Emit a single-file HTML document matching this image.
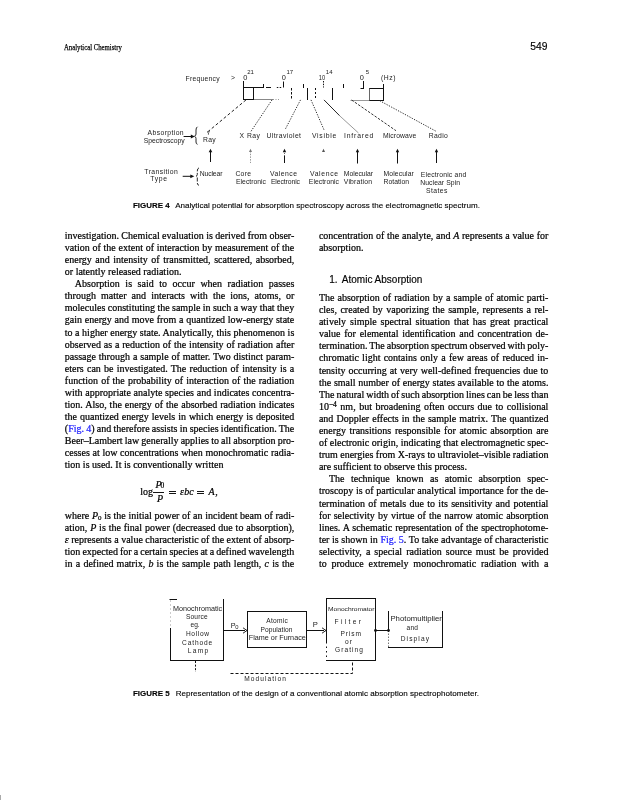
<!DOCTYPE html>
<html><head><meta charset="utf-8">
<style>
html,body{margin:0;padding:0;background:#fff;}
body{width:617px;height:800px;position:relative;overflow:hidden;}
.ln{position:absolute;white-space:nowrap;font-family:"Liberation Serif",serif;font-size:10px;line-height:12px;color:#000;-webkit-text-stroke:0.22px #000;}
.ln a{-webkit-text-stroke:0.22px #2020ff;}
.ln a{color:#2020ff;text-decoration:none;}
sub,sup{font-size:7px;line-height:0;}
sub{vertical-align:-1.2px;}
sup{vertical-align:3.5px;font-size:7.5px;}
.abs{position:absolute;white-space:nowrap;}
.eq{font-family:"Liberation Serif",serif;font-size:10px;line-height:12px;color:#000;-webkit-text-stroke:0.22px #000;}
.cap{position:absolute;white-space:nowrap;font-family:"Liberation Sans",sans-serif;font-size:8.07px;line-height:10px;color:#000;-webkit-text-stroke:0.12px #000;}
.cap b{font-weight:bold;margin-right:3.8px;font-size:7.95px;}
svg{position:absolute;left:0;top:0;}
#wrap{position:absolute;left:0;top:0;width:617px;height:800px;will-change:transform;}
</style></head><body><div id="wrap">
<div class="abs" style="left:64.4px;top:41.8px;font-family:'Liberation Serif',serif;font-size:8.8px;line-height:10px;color:#000;-webkit-text-stroke:0.25px #000;transform:scaleX(0.765);transform-origin:0 0;">Analytical Chemistry</div>
<div class="abs" style="left:530.3px;top:41.5px;font-family:'Liberation Sans',sans-serif;font-size:10.3px;line-height:10px;color:#000;-webkit-text-stroke:0.15px #000;">549</div>
<svg width="617" height="220" viewBox="0 0 617 220" style="left:0;top:0">
<g font-family="Liberation Sans, sans-serif" fill="#222" font-size="6.8">
<text x="185.6" y="80.5" textLength="34" lengthAdjust="spacing">Frequency</text>
<text x="231" y="80" textLength="4.5" lengthAdjust="spacing">&gt;</text>
<text x="243.2" y="79.8" font-size="7.4">0</text>
<text x="247.2" y="73.9" font-size="6">21</text>
<text x="281.8" y="79.8" font-size="7.4">0</text>
<text x="286.4" y="73.9" font-size="6">17</text>
<text x="318.8" y="79.8" font-size="7.2" textLength="6.4" lengthAdjust="spacingAndGlyphs">10</text>
<text x="325.8" y="73.9" font-size="6">14</text>
<text x="359.8" y="79.8" font-size="7.4">0</text>
<text x="365.8" y="73.9" font-size="6">5</text>
<text x="381" y="80" textLength="14.6" lengthAdjust="spacing">(Hz)</text>

<text x="147.6" y="134.8" textLength="36" lengthAdjust="spacing">Absorption</text>
<text x="143.8" y="143.3" textLength="40.8" lengthAdjust="spacing">Spectroscopy</text>
<text x="207" y="133.6" font-size="5.5">γ</text>
<text x="203" y="141.8" textLength="12.7" lengthAdjust="spacing">Ray</text>
<text x="239.6" y="138" textLength="20.3" lengthAdjust="spacing">X Ray</text>
<text x="266.5" y="137.5" textLength="34.5" lengthAdjust="spacing">Ultraviolet</text>
<text x="311.9" y="137.5" textLength="24.3" lengthAdjust="spacing">Visible</text>
<text x="344" y="137.7" textLength="29.3" lengthAdjust="spacing">Infrared</text>
<text x="383" y="137.9" textLength="33.2" lengthAdjust="spacing">Microwave</text>
<text x="428.8" y="137.9" textLength="19" lengthAdjust="spacing">Radio</text>

<text x="144.3" y="174.4" textLength="33.5" lengthAdjust="spacing">Transition</text>
<text x="150.2" y="181.1" textLength="16.8" lengthAdjust="spacing">Type</text>
<text x="199.7" y="175.8" textLength="22.7" lengthAdjust="spacing">Nuclear</text>
<text x="235.4" y="175.6" textLength="15.6" lengthAdjust="spacing">Core</text>
<text x="236" y="183.6" textLength="30" lengthAdjust="spacing">Electronic</text>
<text x="270" y="175.6" textLength="27" lengthAdjust="spacing">Valence</text>
<text x="270.9" y="183.6" textLength="29.1" lengthAdjust="spacing">Electronic</text>
<text x="310" y="175.6" textLength="28" lengthAdjust="spacing">Valence</text>
<text x="308.8" y="183.6" textLength="30.2" lengthAdjust="spacing">Electronic</text>
<text x="343.8" y="176" textLength="29.2" lengthAdjust="spacing">Molecular</text>
<text x="343.8" y="183.8" textLength="28.2" lengthAdjust="spacing">Vibration</text>
<text x="383.6" y="176" textLength="30.2" lengthAdjust="spacing">Molecular</text>
<text x="383.6" y="183.8" textLength="25.4" lengthAdjust="spacing">Rotation</text>
<text x="420.8" y="176.8" textLength="45.4" lengthAdjust="spacing">Electronic and</text>
<text x="420.2" y="184.7" textLength="39.8" lengthAdjust="spacing">Nuclear Spin</text>
<text x="425.9" y="193.3" textLength="21.6" lengthAdjust="spacing">States</text>
</g>
<g stroke="#111" stroke-width="1" fill="none">
<path d="M243.5 81 V100 M243 87.5 H264 M263.5 84 V87.5 M253.5 87.5 V100 M243 99.5 H254"/>
<path d="M266 87.5 H271 M276.8 87.5 H278.3 M279.7 87.5 H281.2" />
<path d="M283.5 81.5 V87.5"/>
<path d="M291.5 88 V100" stroke-dasharray="2.5 1.5"/>
<path d="M303.5 84 V88 M307.5 88 V100"/>
<path d="M315.5 88 V100" stroke-dasharray="2 2"/>
<path d="M323.5 81 V87.5" stroke-dasharray="1.5 1.2"/>
<path d="M332.5 88 V100 M343.5 84 V88"/>
<path d="M363.5 81 V88.5 M360.5 88.5 H364"/>
<path d="M369 88.5 H384 M383.5 84 V101 M369 100.5 H384"/>
<path d="M369.5 88.5 V100.5" stroke="#666"/>
<path d="M254 99.5 H273" stroke="#888"/>
<path d="M273 99.5 H280" stroke="#999" stroke-dasharray="1 1.5"/>
<path d="M350.5 100.5 H369" stroke="#999"/>
<!-- diagonals -->
<path d="M246 99.9 L207.2 132.3" stroke-dasharray="3 2.2" stroke="#222"/>
<path d="M272 99.9 L250.9 131.5" stroke-dasharray="1.3 1.3" stroke="#333"/>
<path d="M300.5 99.9 L285 129.8" stroke-dasharray="1.3 1.3" stroke="#333"/>
<path d="M311 99.9 L324 129.8" stroke-dasharray="1.3 1.3" stroke="#333"/>
<path d="M324 99.9 L339.7 115.8" stroke="#222"/><path d="M339.7 115.8 L358.5 133" stroke="#999"/>
<path d="M351.6 100 L396 130.7" stroke-dasharray="2.5 1.5" stroke="#333"/>
<path d="M379.7 100.7 L436.5 131.5" stroke-dasharray="1.3 1.3" stroke="#333"/>
<!-- arrows absorption -->
<path d="M183.6 136.5 H193"/>
<path d="M197.5 126.8 Q196 127.5 196 130 V134 Q196 135.8 194.5 136.2 Q196 136.8 196 138.6 V142 Q196 144 197.5 144.3" stroke-width="0.9"/>
<path d="M182.7 176.3 H192"/>
<path d="M199 167.8 Q197.3 168.5 197.3 171 V174.5 Q197.3 175.9 196 176.2 Q197.3 176.6 197.3 178 V183 Q197.3 185 199 185.3" stroke-width="0.9" stroke-dasharray="4 1.5"/>
<!-- up arrows -->
<path d="M210.5 151 V162"/>
<path d="M250.5 151 V163" stroke="#999" stroke-dasharray="1.5 1.2"/>
<path d="M284.5 151 V156" stroke="#666" stroke-dasharray="1 1"/>
<path d="M284.5 156 V163"/>
<path d="M357.5 151 V163.5 M397.5 151 V163.5 M436.5 151 V163"/>
</g>
<g fill="#111">
<path d="M194.8 136.5 L190.8 134.6 L190.8 138.4 Z"/>
<path d="M194.3 176.3 L190.3 174.4 L190.3 178.2 Z"/>
<path d="M210.5 148.8 L208.7 152.3 L212.3 152.3 Z"/>
<path d="M250.5 148.8 L249 152 L252 152 Z" fill="#777"/>
<path d="M284.5 148.8 L282.8 152.2 L286.2 152.2 Z"/>
<path d="M323.5 148.8 L322 152 L325 152 Z" fill="#555"/>
<path d="M357.5 148.8 L355.8 152.2 L359.2 152.2 Z"/>
<path d="M397.5 148.8 L395.8 152.2 L399.2 152.2 Z"/>
<path d="M436.5 148.8 L434.8 152.2 L438.2 152.2 Z"/>
</g>
</svg>

<div class="cap" style="left:133px;top:200.6px;"><b>FIGURE 4</b> Analytical potential for absorption spectroscopy across the electromagnetic spectrum.</div>
<div class="ln" style="left:64.80px;top:230.00px;word-spacing:-0.086px">investigation. Chemical evaluation is derived from obser-</div>
<div class="ln" style="left:64.80px;top:242.06px;word-spacing:0.231px">vation of the extent of interaction by measurement of the</div>
<div class="ln" style="left:64.80px;top:254.13px;word-spacing:1.023px">energy and intensity of transmitted, scattered, absorbed,</div>
<div class="ln" style="left:64.80px;top:266.19px;word-spacing:0.000px">or latently released radiation.</div>
<div class="ln" style="left:74.80px;top:278.26px;word-spacing:3.067px">Absorption is said to occur when radiation passes</div>
<div class="ln" style="left:64.80px;top:290.32px;word-spacing:2.582px">through matter and interacts with the ions, atoms, or</div>
<div class="ln" style="left:64.80px;top:302.39px;word-spacing:-0.082px">molecules constituting the sample in such a way that they</div>
<div class="ln" style="left:64.80px;top:314.45px;word-spacing:0.270px">gain energy and move from a quantized low-energy state</div>
<div class="ln" style="left:64.80px;top:326.52px;word-spacing:0.047px">to a higher energy state. Analytically, this phenomenon is</div>
<div class="ln" style="left:64.80px;top:338.58px;word-spacing:0.354px">observed as a reduction of the intensity of radiation after</div>
<div class="ln" style="left:64.80px;top:350.65px;word-spacing:0.436px">passage through a sample of matter. Two distinct param-</div>
<div class="ln" style="left:64.80px;top:362.72px;word-spacing:0.774px">eters can be investigated. The reduction of intensity is a</div>
<div class="ln" style="left:64.80px;top:374.78px;word-spacing:0.570px">function of the probability of interaction of the radiation</div>
<div class="ln" style="left:64.80px;top:386.85px;word-spacing:0.211px">with appropriate analyte species and indicates concentra-</div>
<div class="ln" style="left:64.80px;top:398.91px;word-spacing:0.453px">tion. Also, the energy of the absorbed radiation indicates</div>
<div class="ln" style="left:64.80px;top:410.98px;word-spacing:0.477px">the quantized energy levels in which energy is deposited</div>
<div class="ln" style="left:64.80px;top:423.04px;word-spacing:-0.244px">(<a>Fig. 4</a>) and therefore assists in species identification. The</div>
<div class="ln" style="left:64.80px;top:435.11px;word-spacing:-0.339px">Beer–Lambert law generally applies to all absorption pro-</div>
<div class="ln" style="left:64.80px;top:447.17px;word-spacing:0.206px">cesses at low concentrations when monochromatic radia-</div>
<div class="ln" style="left:64.80px;top:459.24px;word-spacing:0.000px">tion is used. It is conventionally written</div>
<div class="ln" style="left:64.80px;top:510.00px;word-spacing:0.172px">where <i>P</i><sub>0</sub> is the initial power of an incident beam of radi-</div>
<div class="ln" style="left:64.80px;top:522.07px;word-spacing:0.352px">ation, <i>P</i> is the final power (decreased due to absorption),</div>
<div class="ln" style="left:64.80px;top:534.13px;word-spacing:-0.021px"><i>ε</i> represents a value characteristic of the extent of absorp-</div>
<div class="ln" style="left:64.80px;top:546.20px;word-spacing:-0.446px">tion expected for a certain species at a defined wavelength</div>
<div class="ln" style="left:64.80px;top:558.26px;word-spacing:0.701px">in a defined matrix, <i>b</i> is the sample path length, <i>c</i> is the</div>
<div class="ln" style="left:318.90px;top:230.00px;word-spacing:0.201px">concentration of the analyte, and <i>A</i> represents a value for</div>
<div class="ln" style="left:318.90px;top:242.09px;word-spacing:0.000px">absorption.</div>
<div class="ln" style="left:318.90px;top:292.00px;word-spacing:0.599px">The absorption of radiation by a sample of atomic parti-</div>
<div class="ln" style="left:318.90px;top:304.09px;word-spacing:0.990px">cles, created by vaporizing the sample, represents a rel-</div>
<div class="ln" style="left:318.90px;top:316.18px;word-spacing:1.406px">atively simple spectral situation that has great practical</div>
<div class="ln" style="left:318.90px;top:328.27px;word-spacing:1.229px">value for elemental identification and concentration de-</div>
<div class="ln" style="left:318.90px;top:340.36px;word-spacing:-0.555px">termination. The absorption spectrum observed with poly-</div>
<div class="ln" style="left:318.90px;top:352.45px;word-spacing:0.726px">chromatic light contains only a few areas of reduced in-</div>
<div class="ln" style="left:318.90px;top:364.54px;word-spacing:0.455px">tensity occurring at very well-defined frequencies due to</div>
<div class="ln" style="left:318.90px;top:376.63px;word-spacing:0.280px">the small number of energy states available to the atoms.</div>
<div class="ln" style="left:318.90px;top:388.72px;word-spacing:-0.489px">The natural width of such absorption lines can be less than</div>
<div class="ln" style="left:318.90px;top:400.81px;word-spacing:0.992px">10<sup>−4</sup> nm, but broadening often occurs due to collisional</div>
<div class="ln" style="left:318.90px;top:412.90px;word-spacing:0.582px">and Doppler effects in the sample matrix. The quantized</div>
<div class="ln" style="left:318.90px;top:424.99px;word-spacing:1.159px">energy transitions responsible for atomic absorption are</div>
<div class="ln" style="left:318.90px;top:437.08px;word-spacing:0.070px">of electronic origin, indicating that electromagnetic spec-</div>
<div class="ln" style="left:318.90px;top:449.17px;word-spacing:-0.044px">trum energies from X-rays to ultraviolet–visible radiation</div>
<div class="ln" style="left:318.90px;top:461.26px;word-spacing:0.000px">are sufficient to observe this process.</div>
<div class="ln" style="left:328.90px;top:473.35px;word-spacing:4.000px">The technique known as atomic absorption spec-</div>
<div class="ln" style="left:318.90px;top:485.44px;word-spacing:0.156px">troscopy is of particular analytical importance for the de-</div>
<div class="ln" style="left:318.90px;top:497.53px;word-spacing:0.844px">termination of metals due to its sensitivity and potential</div>
<div class="ln" style="left:318.90px;top:509.62px;word-spacing:0.639px">for selectivity by virtue of the narrow atomic absorption</div>
<div class="ln" style="left:318.90px;top:521.71px;word-spacing:0.438px">lines. A schematic representation of the spectrophotome-</div>
<div class="ln" style="left:318.90px;top:533.80px;word-spacing:0.100px">ter is shown in <a>Fig. 5</a>. To take advantage of characteristic</div>
<div class="ln" style="left:318.90px;top:545.89px;word-spacing:1.538px">selectivity, a special radiation source must be provided</div>
<div class="ln" style="left:318.90px;top:557.98px;word-spacing:2.336px">to produce extremely monochromatic radiation with a</div>
<div class="abs eq" style="left:140.3px;top:486.3px;">log</div>
<div class="abs eq" style="left:155.6px;top:479.2px;"><i>P</i></div>
<div class="abs eq" style="left:160.4px;top:480.2px;font-size:7.5px;">0</div>
<div class="abs" style="left:153.4px;top:491.7px;width:10.5px;height:0.7px;background:#141414;"></div>
<div class="abs eq" style="left:156.9px;top:492.8px;"><i>P</i></div>
<div class="abs" style="left:169px;top:490.9px;width:7px;height:0.75px;background:#141414;"></div>
<div class="abs" style="left:169px;top:493.4px;width:7px;height:0.75px;background:#141414;"></div>
<div class="abs eq" style="left:180.1px;top:486.3px;"><i>ε</i></div>
<div class="abs eq" style="left:184.3px;top:486.3px;"><i>b</i></div>
<div class="abs eq" style="left:189.3px;top:486.3px;"><i>c</i></div>
<div class="abs" style="left:196.8px;top:490.9px;width:7.4px;height:0.75px;background:#141414;"></div>
<div class="abs" style="left:196.8px;top:493.4px;width:7.4px;height:0.75px;background:#141414;"></div>
<div class="abs eq" style="left:208.5px;top:486.3px;"><i>A</i></div>
<div class="abs eq" style="left:215.3px;top:486.3px;">,</div>

<div class="abs" style="left:329.3px;top:274.2px;font-family:'Liberation Sans',sans-serif;font-size:10px;line-height:12px;color:#000;-webkit-text-stroke:0.15px #000;">1.<span style="margin-left:4.2px">Atomic Absorption</span></div>
<svg width="617" height="800" viewBox="0 0 617 800" style="left:0;top:0">
<g font-family="Liberation Sans, sans-serif" fill="#222" font-size="6.6">
<text x="173" y="611" textLength="49.2" lengthAdjust="spacingAndGlyphs">Monochromatic</text>
<text x="185.9" y="619.2" textLength="21.8" lengthAdjust="spacing">Source</text>
<text x="190.6" y="626.6" textLength="9.1" lengthAdjust="spacing">eg.</text>
<text x="185.9" y="635.7" textLength="23.1" lengthAdjust="spacing">Hollow</text>
<text x="182.1" y="644.8" textLength="30.1" lengthAdjust="spacing">Cathode</text>
<text x="187.8" y="653.3" textLength="20.4" lengthAdjust="spacing">Lamp</text>
<text x="230.8" y="627.6" font-size="7.2">P</text>
<text x="235.2" y="629.2" font-size="5.8">0</text>
<text x="266.3" y="623.2" textLength="21.4" lengthAdjust="spacing">Atomic</text>
<text x="260.4" y="632" textLength="32.1" lengthAdjust="spacing">Population</text>
<text x="248.8" y="640.1" textLength="57" lengthAdjust="spacingAndGlyphs">Flame or Furnace</text>
<text x="312.8" y="627.3" font-size="7.6">P</text>
<text x="328" y="610.6" font-size="6.2" textLength="46.5" lengthAdjust="spacingAndGlyphs">Monochromator</text>
<text x="334.6" y="624" textLength="26.3" lengthAdjust="spacing">Filter</text>
<text x="340.4" y="635.8" textLength="20.6" lengthAdjust="spacing">Prism</text>
<text x="345" y="643.6" textLength="7" lengthAdjust="spacing">or</text>
<text x="335" y="651.6" textLength="27.9" lengthAdjust="spacing">Grating</text>
<text x="390.4" y="621.3" textLength="51.5" lengthAdjust="spacingAndGlyphs">Photomultiplier</text>
<text x="406.6" y="630" textLength="11.4" lengthAdjust="spacing">and</text>
<text x="400.7" y="640.7" textLength="28.3" lengthAdjust="spacing">Display</text>
<text x="244.2" y="681.3" font-size="6.6" textLength="41.8" lengthAdjust="spacing">Modulation</text>
</g>
<g stroke="#111" stroke-width="1" fill="none">
<path d="M169.5 599.5 H177"/>
<path d="M170.5 628 V661 M170 660.5 H224 M223.5 599 V661"/>
<path d="M170.5 600 V628" stroke="#ccc" stroke-dasharray="2 2"/>
<path d="M223.5 630.5 H245"/>
<path d="M247.5 611 V648 M247 611.5 H307 M306.5 611 V648 M247 647.5 H307"/>
<path d="M306.5 630.5 H324"/>
<path d="M326.5 598 V642 M326 598.5 H376 M375.5 598 V661 M326 660.5 H376"/>
<path d="M326.5 642 V661" stroke-dasharray="1.5 3"/>
<path d="M375.5 630.5 H388.5"/>
<path d="M388.5 611 V630.5 M442.5 611 V648 M388 647.5 H443"/>
<path d="M388.5 630.5 V647.5" stroke="#777" stroke-dasharray="1.5 1.5"/>
<path d="M195.5 661 V672" stroke-dasharray="2 1.6"/>
<path d="M243 627.8 L247 630.5 L243 633.2 M322 627.8 L326 630.5 L322 633.2" stroke-width="0.9"/>
<path d="M230.5 673.5 H352.5 V661" stroke-dasharray="3 2"/>
</g>
<g fill="#111">
<circle cx="375.5" cy="630.5" r="1.4"/>
<circle cx="388.5" cy="630.5" r="1.4"/>
</g>
</svg>

<div class="cap" style="left:133px;top:688.7px;"><b>FIGURE 5</b> Representation of the design of a conventional atomic absorption spectrophotometer.</div>
<div class="abs" style="left:0;top:795px;width:1px;height:5px;background:#aaa;"></div>
</div></body></html>
